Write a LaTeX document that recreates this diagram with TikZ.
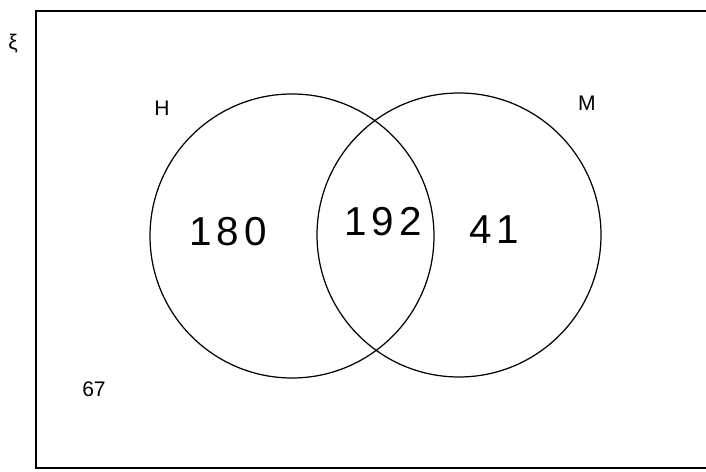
\documentclass[tikz,border=0pt]{standalone}
\usepackage{fontspec}
\setmainfont{Liberation Sans}
\tikzset{
	lab/.style={font=\fontsize{12}{14}\selectfont},
	hand/.style={font=\fontsize{23}{26}\selectfont\addfontfeature{LetterSpace=12}}
}
\begin{document}
\begin{tikzpicture}[x=0.02cm,y=-0.02cm]
		\useasboundingbox (0,0) rectangle (706,472);
		\coordinate (P) at (36,11);
		\coordinate (Q) at (709,468);
		\coordinate (O_H) at (292,236);
		\coordinate (O_M) at (459,235);
		\draw [line width=1.1pt] (P) rectangle (Q);
		\draw [line width=0.7pt] (O_H) circle (142) (O_M) circle (142);
		\node (xi) at (13,44) [lab] {ξ};
		\node (H) at (162,108) [lab] {H};
		\node (M) at (587,103) [lab] {M};
		\node (out) at (94,389) [lab] {67};
		\node (onlyH) at (228,232) [hand] {180};
		\node (both) at (383,222) [hand] {192};
		\node (onlyM) at (494,230) [hand] {41};
\end{tikzpicture}
\end{document}
